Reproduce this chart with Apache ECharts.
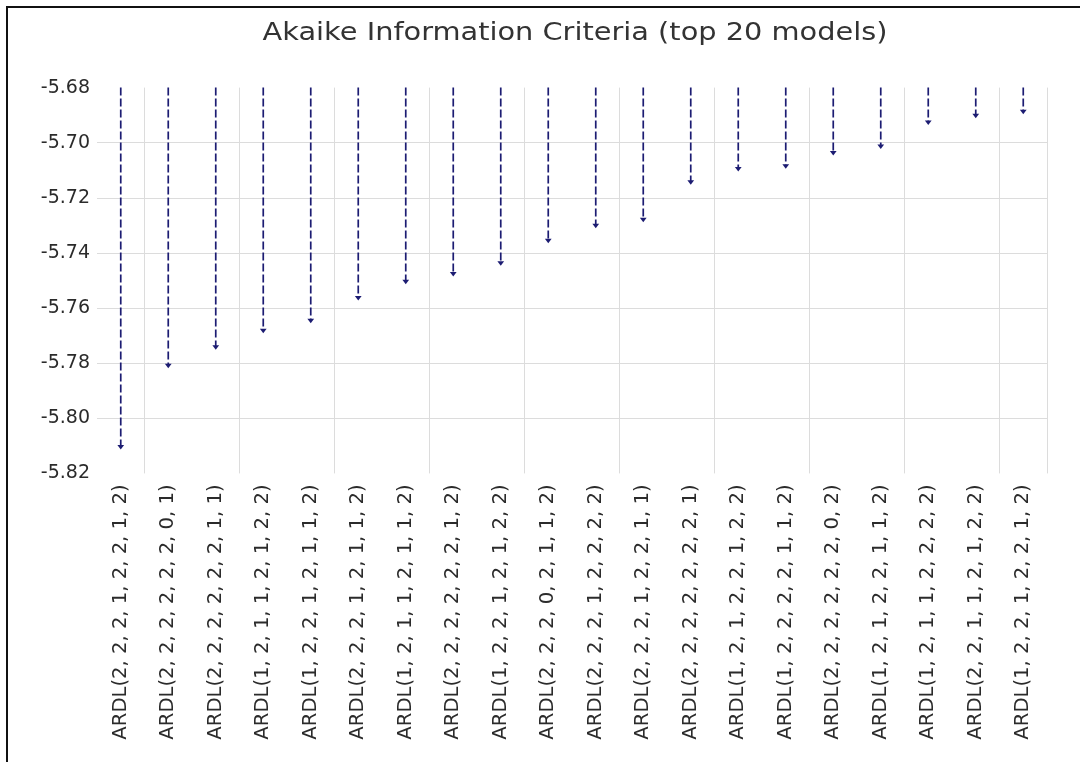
<!DOCTYPE html>
<html>
<head>
<meta charset="utf-8">
<title>Akaike Information Criteria (top 20 models)</title>
<script src="https://cdn.jsdelivr.net/npm/echarts@6/dist/echarts.min.js"></script>
<style>
  html, body { margin: 0; padding: 0; background: #ffffff; }
  #chart { width: 1080px; height: 762px; }
</style>
</head>
<body>
<div id="chart"></div>
<script>
// ARDL model specifications, ranked by AIC
const models = [
  'ARDL(2, 2, 2, 1, 2, 2, 1, 2)',
  'ARDL(2, 2, 2, 2, 2, 2, 0, 1)',
  'ARDL(2, 2, 2, 2, 2, 2, 1, 1)',
  'ARDL(1, 2, 1, 1, 2, 1, 2, 2)',
  'ARDL(1, 2, 2, 1, 2, 1, 1, 2)',
  'ARDL(2, 2, 2, 1, 2, 1, 1, 2)',
  'ARDL(1, 2, 1, 1, 2, 1, 1, 2)',
  'ARDL(2, 2, 2, 2, 2, 2, 1, 2)',
  'ARDL(1, 2, 2, 1, 2, 1, 2, 2)',
  'ARDL(2, 2, 2, 0, 2, 1, 1, 2)',
  'ARDL(2, 2, 2, 1, 2, 2, 2, 2)',
  'ARDL(2, 2, 2, 1, 2, 2, 1, 1)',
  'ARDL(2, 2, 2, 2, 2, 2, 2, 1)',
  'ARDL(1, 2, 1, 2, 2, 1, 2, 2)',
  'ARDL(1, 2, 2, 2, 2, 1, 1, 2)',
  'ARDL(2, 2, 2, 2, 2, 2, 0, 2)',
  'ARDL(1, 2, 1, 2, 2, 1, 1, 2)',
  'ARDL(1, 2, 1, 1, 2, 2, 2, 2)',
  'ARDL(2, 2, 1, 1, 2, 1, 2, 2)',
  'ARDL(1, 2, 2, 1, 2, 2, 1, 2)'
];

// Akaike information criterion of each model
const aicValues = [
  -5.8108, -5.7813, -5.7746, -5.7686, -5.7650,
  -5.7567, -5.7508, -5.7480, -5.7441, -5.7359,
  -5.7305, -5.7283, -5.7147, -5.7099, -5.7089,
  -5.7041, -5.7017, -5.6930, -5.6906, -5.6891
];

// Value axis range and step
const yMin = -5.82;
const yMax = -5.68;
const yStep = 0.02;

const chartTitle = 'Akaike Information Criteria (top 20 models)';

const stemColor = '#1c1c72';
const textColor = '#2b2b2b';
const gridColor = '#dcdcdc';

const chart = echarts.init(document.getElementById('chart'), null, { renderer: 'canvas' });

chart.setOption({
  backgroundColor: '#ffffff',
  animation: false,
  graphic: [
    // frame around the figure (top and left edges)
    {
      type: 'polyline',
      shape: { points: [[7, 762], [7, 7], [1080, 7]] },
      style: { stroke: '#111111', lineWidth: 2, fill: null },
      silent: true
    },
    // chart title, set in a slightly widened face
    {
      type: 'text',
      x: 575,
      y: 34,
      scaleX: 1.2,
      silent: true,
      style: {
        text: chartTitle,
        font: '24px "DejaVu Sans"',
        fill: '#333333',
        textAlign: 'center',
        textVerticalAlign: 'middle'
      }
    }
  ],
  grid: {
    left: 97,
    right: 33,
    top: 87.6,
    bottom: 288.6,
    containLabel: false
  },
  xAxis: {
    type: 'category',
    data: models,
    boundaryGap: true,
    axisLine: { show: false },
    axisTick: { show: false },
    splitLine: {
      show: true,
      interval: function (index) { return index % 2 === 1; },
      lineStyle: { color: gridColor, width: 1 }
    },
    axisLabel: {
      interval: 0,
      rotate: 90,
      margin: 11,
      fontFamily: 'DejaVu Sans',
      fontSize: 19.6,
      color: textColor
    }
  },
  yAxis: {
    type: 'value',
    min: yMin,
    max: yMax,
    interval: yStep,
    axisLine: { show: false },
    axisTick: { show: false },
    splitLine: {
      show: true,
      showMinLine: false,
      showMaxLine: false,
      lineStyle: { color: gridColor, width: 1 }
    },
    axisLabel: {
      margin: 7,
      fontFamily: 'DejaVu Sans',
      fontSize: 19,
      color: textColor,
      formatter: function (v) { return v.toFixed(2); }
    }
  },
  series: [
    {
      // dashed drop lines from the top of the scale down to each model's AIC
      type: 'custom',
      data: aicValues.map(function (v, i) { return [i, v]; }),
      encode: { x: 0, y: 1 },
      renderItem: function (params, api) {
        const idx = api.value(0);
        const val = api.value(1);
        const start = api.coord([idx, yMax]);
        const end = api.coord([idx, val]);
        return {
          type: 'group',
          children: [
            {
              type: 'line',
              shape: { x1: start[0], y1: start[1], x2: end[0], y2: end[1] - 2 },
              style: { stroke: stemColor, lineWidth: 1.7, lineDash: [8, 3] }
            },
            {
              type: 'polygon',
              shape: {
                points: [
                  [end[0] - 3.4, end[1] - 3],
                  [end[0] + 3.4, end[1] - 3],
                  [end[0], end[1] + 1.5]
                ]
              },
              style: { fill: stemColor }
            }
          ]
        };
      }
    }
  ]
});
</script>
</body>
</html>
